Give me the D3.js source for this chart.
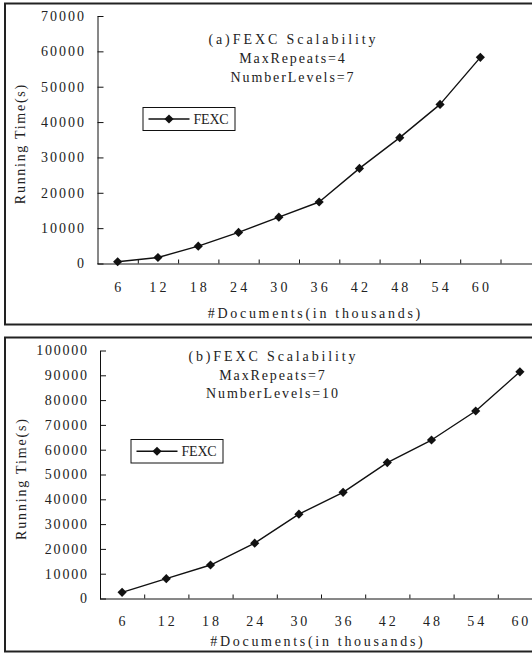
<!DOCTYPE html>
<html>
<head>
<meta charset="utf-8">
<script src="https://cdn.jsdelivr.net/npm/d3@7"></script>
<style>
  html, body { margin: 0; padding: 0; background: #fff; }
  svg { display: block; }
  text { font-family: "Liberation Serif", "Times New Roman", serif; fill: #222; }
</style>
</head>
<body>
<svg id="chart" width="532" height="653"></svg>
<script>
// data
const docs = [6, 12, 18, 24, 30, 36, 42, 48, 54, 60];
const timesA = [500, 1700, 4900, 8800, 13100, 17400, 26900, 35600, 45000, 58300];
const timesB = [2500, 8000, 13500, 22300, 34000, 42800, 54800, 63900, 75600, 91400];
const yTicksA = [0, 10000, 20000, 30000, 40000, 50000, 60000, 70000];
const yTicksB = [0, 10000, 20000, 30000, 40000, 50000, 60000, 70000, 80000, 90000, 100000];
const titleA = ["(a)FEXC Scalability", "MaxRepeats=4", "NumberLevels=7"];
const titleB = ["(b)FEXC Scalability", "MaxRepeats=7", "NumberLevels=10"];
const seriesName = "FEXC";
const xTitle = "#Documents(in thousands)";
const yTitle = "Running Time(s)";

const svg = d3.select("#chart");
const FS = 14;

// fixed-pitch look: stretch each string to n * pitch
const pitch = (sel, w) => sel
	.attr("textLength", function () { return this.textContent.length * w; })
	.attr("lengthAdjust", "spacing");

const diamond = d3.symbol(d3.symbolSquare, 42);

const panel = cfg => {
	const g = svg.append("g");

	g.append("rect")
		.attr("x", cfg.frame[0]).attr("y", cfg.frame[1])
		.attr("width", cfg.frame[2]).attr("height", cfg.frame[3])
		.attr("fill", "none").attr("stroke", "#222").attr("stroke-width", 2);

	const x = d3.scaleBand()
		.domain(docs)
		.range([cfg.x0, cfg.x0 + cfg.bw * docs.length]);

	const y = d3.scaleLinear()
		.domain([0, d3.max(cfg.yTicks)])
		.range([cfg.y0, cfg.y1]);

	// y axis, ticks pointing inward
	const ya = g.append("g")
		.attr("transform", `translate(${cfg.x0},0)`)
		.call(d3.axisLeft(y).tickValues(cfg.yTicks).tickSizeInner(-6).tickSizeOuter(0).tickPadding(cfg.yPad).tickFormat(d3.format("d")));
	ya.selectAll("path, line").attr("stroke", "#111");
	ya.selectAll("text")
		.attr("font-size", FS)
		.attr("font-family", "Liberation Serif")
		.attr("fill", "#222")
		.call(pitch, cfg.tickPitch);

	// x axis: labels at band centres, ticks on band edges
	const xa = g.append("g")
		.attr("transform", `translate(0,${cfg.y0})`)
		.call(d3.axisBottom(x).tickSize(0).tickPadding(cfg.xPad));
	xa.select(".domain").remove();
	xa.selectAll("text")
		.attr("font-size", FS)
		.attr("font-family", "Liberation Serif")
		.attr("fill", "#222")
		.call(pitch, cfg.tickPitch);

	g.append("line")
		.attr("x1", cfg.x0).attr("x2", 545)
		.attr("y1", cfg.y0 + 0.5).attr("y2", cfg.y0 + 0.5)
		.attr("stroke", "#111");

	g.append("g").selectAll("line")
		.data(docs)
		.join("line")
		.attr("x1", d => x(d) + x.bandwidth() + 0.5)
		.attr("x2", d => x(d) + x.bandwidth() + 0.5)
		.attr("y1", cfg.y0)
		.attr("y2", cfg.y0 - 4)
		.attr("stroke", "#111");

	// series
	const cx = d => x(d) + x.bandwidth() / 2;
	const line = d3.line()
		.x((d, i) => cx(docs[i]))
		.y(d => y(d));

	g.append("path")
		.datum(cfg.values)
		.attr("fill", "none")
		.attr("stroke", "#111")
		.attr("stroke-width", 1.4)
		.attr("stroke-linejoin", "round")
		.attr("d", line);

	g.append("g").selectAll("path")
		.data(cfg.values)
		.join("path")
		.attr("d", diamond)
		.attr("transform", (d, i) => `translate(${cx(docs[i])},${y(d)}) rotate(45)`)
		.attr("fill", "#111");

	// title block
	g.append("g").selectAll("text")
		.data(cfg.title)
		.join("text")
		.attr("x", cfg.titleX)
		.attr("y", (d, i) => cfg.titleY + i * cfg.titleGap)
		.attr("dy", "0.35em")
		.attr("text-anchor", "middle")
		.attr("font-size", FS)
		.text(d => d)
		.call(pitch, 8.8);

	// legend
	const [lx, ly, lw, lh] = cfg.legend;
	const lg = g.append("g").attr("transform", `translate(${lx},${ly})`);
	lg.append("rect")
		.attr("x", 0.5).attr("y", 0.5).attr("width", lw).attr("height", lh)
		.attr("fill", "#fff").attr("stroke", "#111");
	lg.append("line")
		.attr("x1", 6).attr("x2", 47)
		.attr("y1", lh / 2 + 0.5).attr("y2", lh / 2 + 0.5)
		.attr("stroke", "#111").attr("stroke-width", 1.4);
	lg.append("path")
		.attr("d", diamond)
		.attr("transform", `translate(26.5,${lh / 2 + 0.5}) rotate(45)`)
		.attr("fill", "#111");
	lg.append("text")
		.attr("x", 51).attr("y", lh / 2 + 0.5)
		.attr("dy", "0.35em")
		.attr("font-size", FS)
		.text(seriesName)
		.call(pitch, 8.8);

	// axis titles
	g.append("text")
		.attr("x", cfg.xTitle[0]).attr("y", cfg.xTitle[1])
		.attr("dy", "0.35em")
		.attr("text-anchor", "middle")
		.attr("font-size", FS)
		.text(xTitle)
		.call(pitch, 8.85);

	g.append("text")
		.attr("transform", `translate(${cfg.yTitle[0]},${cfg.yTitle[1]}) rotate(-90)`)
		.attr("dy", "0.35em")
		.attr("text-anchor", "middle")
		.attr("font-size", FS)
		.text(yTitle)
		.call(pitch, cfg.yTitlePitch);
};

panel({
	frame: [5, 3.5, 545, 321],
	x0: 97.5, bw: 40.3, y0: 263.5, y1: 16,
	yTicks: yTicksA, values: timesA,
	yPad: 13.5, xPad: 19, tickPitch: 8.6,
	title: titleA, titleX: 292, titleY: 39, titleGap: 19,
	legend: [142.5, 107, 92, 23],
	xTitle: [314, 313], yTitle: [20, 144.5], yTitlePitch: 7.95
});

panel({
	frame: [5, 337.5, 545, 314],
	x0: 100, bw: 44.2, y0: 598.5, y1: 350.5,
	yTicks: yTicksB, values: timesB,
	yPad: 13, xPad: 18, tickPitch: 8.45,
	title: titleB, titleX: 272, titleY: 356, titleGap: 18.7,
	legend: [130.5, 439, 92, 23.5],
	xTitle: [316.5, 641], yTitle: [21.5, 479.5], yTitlePitch: 8.05
});
</script>
</body>
</html>
